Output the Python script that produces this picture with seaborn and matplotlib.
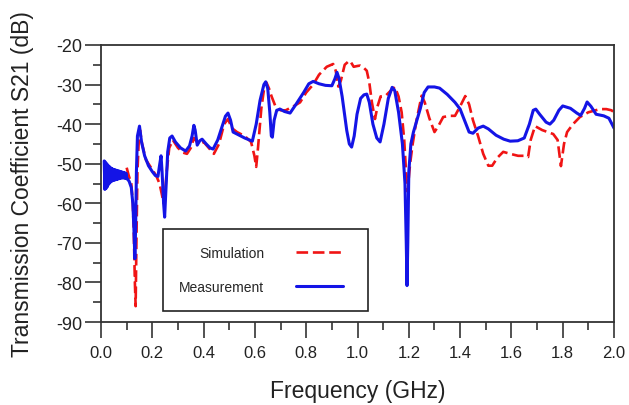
import numpy as np
import pandas as pd
import matplotlib
matplotlib.use("Agg")
import matplotlib.pyplot as plt
from matplotlib.ticker import MultipleLocator, FormatStrFormatter
import seaborn as sns

# ---------------- data ----------------
# Measurement: noisy low-frequency section (values read as a band)
meas_noise_f = [0.0125, 0.015, 0.0175, 0.020, 0.0225, 0.025, 0.0275, 0.030, 0.0325,
                0.035, 0.0375, 0.040, 0.0425, 0.045, 0.0475, 0.050, 0.0525, 0.055,
                0.0575, 0.060, 0.0625, 0.065, 0.0675, 0.070, 0.0725, 0.075, 0.0775,
                0.080, 0.0825, 0.085, 0.0875, 0.090, 0.0925, 0.095, 0.0975, 0.100]
meas_noise_db = [-49.3, -56.5, -49.6, -56.2, -50.0, -55.8, -50.4, -55.2, -50.7, -54.8,
                 -51.0, -54.5, -51.2, -54.3, -51.4, -54.2, -51.5, -54.1, -51.6, -54.0,
                 -51.7, -53.9, -51.8, -53.8, -51.9, -53.7, -52.0, -53.6, -52.1, -53.6,
                 -52.2, -53.6, -52.3, -53.7, -52.4, -53.8]

meas_f = [0.103, 0.110, 0.118, 0.124, 0.128, 0.132, 0.135, 0.138, 0.142, 0.150,
          0.158, 0.170, 0.185, 0.200, 0.212, 0.222, 0.228, 0.234, 0.238, 0.244,
          0.248, 0.254, 0.260, 0.268, 0.277, 0.290, 0.310, 0.330, 0.345, 0.355,
          0.362, 0.367, 0.375, 0.385, 0.394, 0.410, 0.425, 0.437, 0.455, 0.470,
          0.485, 0.495, 0.505, 0.515, 0.530, 0.560, 0.590, 0.605, 0.620, 0.635,
          0.642, 0.650, 0.658, 0.664, 0.668, 0.675, 0.685, 0.698, 0.715, 0.737,
          0.760, 0.790, 0.810, 0.827, 0.850, 0.875, 0.900, 0.912, 0.920, 0.928,
          0.940, 0.958, 0.968, 0.977, 0.987, 0.998, 1.012, 1.025, 1.036, 1.046,
          1.060, 1.075, 1.088, 1.103, 1.120, 1.135, 1.145, 1.160, 1.175, 1.185,
          1.190, 1.193, 1.196, 1.200, 1.208, 1.218, 1.230, 1.245, 1.260, 1.275,
          1.300, 1.320, 1.350, 1.380, 1.400, 1.420, 1.435, 1.450, 1.470, 1.490,
          1.510, 1.540, 1.570, 1.595, 1.625, 1.650, 1.670, 1.685, 1.695, 1.710,
          1.735, 1.750, 1.765, 1.785, 1.800, 1.830, 1.855, 1.870, 1.885, 1.895,
          1.910, 1.930, 1.960, 1.980, 2.000]
meas_db = [-53.8, -54.5, -56.0, -60.0, -66.0, -74.0, -66.0, -52.0, -43.0, -40.5,
           -44.5, -48.0, -50.5, -52.0, -53.0, -53.2, -50.5, -48.0, -52.0, -60.0,
           -63.5, -55.0, -47.0, -43.5, -43.0, -44.5, -46.0, -46.8, -45.5, -43.0,
           -40.3, -41.5, -45.3, -44.2, -43.8, -45.0, -46.0, -46.3, -44.0, -41.0,
           -38.0, -37.2, -39.0, -42.0, -42.5, -43.5, -44.3, -40.0, -34.0, -30.0,
           -29.3, -31.0, -37.0, -43.0, -43.3, -39.0, -36.5, -36.2, -36.8, -37.2,
           -35.0, -32.0, -29.8, -29.2, -29.8, -30.2, -30.3, -28.5, -26.9, -28.5,
           -33.0, -41.6, -45.0, -45.8, -43.0, -37.5, -33.5, -32.6, -32.4, -34.5,
           -40.0, -43.5, -44.5, -40.0, -33.5, -30.7, -31.5, -37.0, -45.0, -55.0,
           -70.0, -80.8, -70.0, -52.0, -45.0, -42.0, -39.3, -36.0, -32.0, -30.6,
           -30.6, -30.9, -32.5, -34.5, -36.2, -39.5, -42.0, -42.3, -41.0, -40.5,
           -41.2, -42.8, -43.8, -44.3, -44.2, -43.5, -40.0, -36.5, -36.2, -37.5,
           -39.5, -40.0, -39.0, -36.5, -35.4, -36.0, -37.2, -37.8, -36.0, -34.4,
           -35.5, -37.5, -37.9, -38.5, -41.0]

sim_f = [0.100, 0.108, 0.118, 0.124, 0.128, 0.132, 0.135, 0.138, 0.142, 0.148,
         0.152, 0.160, 0.175, 0.195, 0.215, 0.228, 0.238, 0.244, 0.248, 0.256,
         0.266, 0.280, 0.300, 0.320, 0.335, 0.350, 0.362, 0.380, 0.400, 0.420,
         0.440, 0.460, 0.480, 0.495, 0.510, 0.530, 0.560, 0.585, 0.598, 0.605,
         0.612, 0.625, 0.638, 0.645, 0.655, 0.665, 0.680, 0.700, 0.720, 0.750,
         0.776, 0.800, 0.827, 0.850, 0.880, 0.905, 0.915, 0.925, 0.935, 0.950,
         0.962, 0.971, 0.985, 1.000, 1.010, 1.025, 1.036, 1.046, 1.056, 1.068,
         1.078, 1.090, 1.110, 1.130, 1.146, 1.160, 1.172, 1.182, 1.190, 1.195,
         1.205, 1.215, 1.230, 1.250, 1.262, 1.280, 1.300, 1.315, 1.334, 1.360,
         1.380, 1.400, 1.420, 1.435, 1.450, 1.470, 1.490, 1.510, 1.525, 1.545,
         1.568, 1.595, 1.626, 1.650, 1.665, 1.675, 1.692, 1.720, 1.763, 1.780,
         1.793, 1.805, 1.817, 1.840, 1.867, 1.900, 1.945, 1.970, 1.990, 2.000]
sim_db = [-51.0, -53.0, -55.0, -60.0, -68.0, -80.0, -86.0, -70.0, -52.0, -43.0,
          -41.5, -45.0, -49.0, -51.0, -53.0, -55.0, -58.0, -60.0, -59.0, -52.0,
          -46.0, -44.0, -46.0, -47.2, -47.5, -46.0, -43.5, -45.0, -44.5, -46.0,
          -47.5, -45.0, -40.0, -38.7, -41.0, -42.0, -43.0, -44.5, -48.0, -50.8,
          -46.0, -36.0, -30.0, -29.5, -31.0, -33.0, -35.5, -36.5, -36.5, -35.5,
          -34.5, -32.0, -30.0, -27.5, -25.5, -24.8, -26.5, -30.5, -29.0, -25.0,
          -24.3, -24.0, -25.5, -25.3, -25.2, -25.8, -26.5, -29.5, -34.5, -38.7,
          -35.5, -33.0, -32.8, -31.5, -30.6, -33.0, -37.0, -44.0, -53.0, -57.0,
          -50.0, -45.0, -39.0, -32.8, -34.5, -38.5, -42.0, -40.5, -38.2, -37.9,
          -37.9, -35.5, -32.9, -35.0, -39.0, -43.0, -47.5, -50.5, -50.5, -48.5,
          -47.0, -47.5, -48.0, -48.0, -48.3, -44.0, -40.5, -41.5, -42.5, -44.0,
          -50.6, -45.0, -42.0, -40.0, -38.2, -37.0, -36.2, -36.2, -36.5, -37.0]

x_ticks = [0.0, 0.2, 0.4, 0.6, 0.8, 1.0, 1.2, 1.4, 1.6, 1.8, 2.0]
y_ticks = [-90, -80, -70, -60, -50, -40, -30, -20]
series_names = ["Simulation", "Measurement"]
colors = {"Simulation": "#f01414", "Measurement": "#1414e6"}

# ---------------- build data frames ----------------
df_sim = pd.DataFrame({"f": sim_f, "db": sim_db})
df_meas = pd.DataFrame({"f": meas_noise_f + meas_f, "db": meas_noise_db + meas_db})

# ---------------- plotting ----------------
sns.set_theme(style="white")
plt.rcParams["font.family"] = ["Liberation Sans", "DejaVu Sans"]
plt.rcParams["axes.unicode_minus"] = False

fig = plt.figure(figsize=(6.29, 4.06), dpi=100)
ax = fig.add_axes([0.1606, 0.2044, 0.8156, 0.6823])

sns.lineplot(data=df_sim, x="f", y="db", ax=ax, color=colors["Simulation"],
             linewidth=1.9, estimator=None, sort=False, label=series_names[0])
ax.lines[-1].set_dashes((4.4, 1.8))
sns.lineplot(data=df_meas, x="f", y="db", ax=ax, color=colors["Measurement"],
             linewidth=2.2, estimator=None, sort=False, label=series_names[1])

ax.set_xlim(0.0, 2.0)
ax.set_ylim(-90, -20)
ax.set_xticks(x_ticks)
ax.set_yticks(y_ticks)
ax.xaxis.set_major_formatter(FormatStrFormatter("%.1f"))
ax.yaxis.set_major_formatter(FormatStrFormatter("%d"))
ax.xaxis.set_minor_locator(MultipleLocator(0.1))
ax.yaxis.set_minor_locator(MultipleLocator(5))

spine_color = "#333333"
for s in ax.spines.values():
    s.set_color(spine_color)
    s.set_linewidth(1.3)
    s.set_visible(True)

ax.tick_params(axis="both", which="both", direction="out", colors=spine_color,
               top=False, right=False, bottom=True, left=True)
ax.tick_params(axis="both", which="major", length=11.5, width=1.2)
ax.tick_params(axis="both", which="minor", length=6, width=1.2)
ax.tick_params(axis="x", which="major", labelsize=12, pad=5, labelcolor="#222222")
ax.tick_params(axis="y", which="major", labelsize=13, pad=2, labelcolor="#222222")

ax.set_xlabel("Frequency (GHz)", fontsize=16.5, labelpad=14, color="#222222")
ax.set_ylabel("Transmission Coefficient S21 (dB)", fontsize=16.5, labelpad=16,
              color="#222222")

leg = ax.legend(loc="lower left", bbox_to_anchor=(0.12, 0.040, 0.40, 0.30),
                mode="expand", markerfirst=False,
                frameon=True, fancybox=False, edgecolor="#222222", framealpha=1,
                fontsize=10, borderpad=1.2, labelspacing=1.45, handlelength=3.4,
                handletextpad=2.25, borderaxespad=0)
leg.get_frame().set_linewidth(1.2)

fig.savefig("out.png", dpi=100)
